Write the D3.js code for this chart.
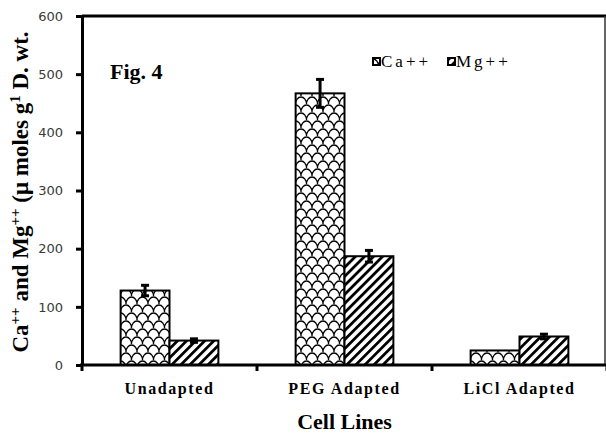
<!DOCTYPE html>
<html lang="en">
  <head>
    <meta charset="UTF-8">
    <script src="https://d3js.org/d3.v7.min.js"></script>
    <title>Fig. 4</title>
    <style>
      body { margin: 0; background: #fff; }
    </style>
  </head>
  <body>
    <div id="chart"></div>
    <script>

// data
const cellLines = ["Unadapted", "PEG Adapted", "LiCl Adapted"];
const series    = ["Ca++", "Mg++"];
const caValues  = [128, 467, 25];
const caErrors  = [9, 24, 0];
const mgValues  = [42, 187, 49];
const mgErrors  = [3, 10, 4];
const yTicks    = [0, 100, 200, 300, 400, 500, 600];

const width  = 606;
const height = 435;

const svg = d3
  .select("#chart")
  .append("svg")
  .attr("width", width)
  .attr("height", height)
  .attr("viewBox", [0, 0, width, height]);

// hatch patterns
const defs = svg.append("defs");

// shingle-like scales for Ca++
const scale = defs.append("pattern")
  .attr("id", "pat-ca")
  .attr("patternUnits", "userSpaceOnUse")
  .attr("width", 11)
  .attr("height", 16);
scale.append("rect").attr("width", 11).attr("height", 16).attr("fill", "#fff");
scale.append("path")
  .attr("d", "M0,16 A5.5,7 0 0 1 11,16 M0,0 A5.5,7 0 0 1 11,0 M-5.5,8 A5.5,7 0 0 1 5.5,8 M5.5,8 A5.5,7 0 0 1 16.5,8")
  .attr("fill", "none")
  .attr("stroke", "#000")
  .attr("stroke-width", 1.3);

// diagonal stripes for Mg++
const stripe = defs.append("pattern")
  .attr("id", "pat-mg")
  .attr("patternUnits", "userSpaceOnUse")
  .attr("width", 6.4)
  .attr("height", 6.4)
  .attr("patternTransform", "rotate(45)");
stripe.append("rect").attr("width", 6.4).attr("height", 6.4).attr("fill", "#fff");
stripe.append("rect").attr("width", 2.8).attr("height", 6.4).attr("fill", "#000");

const fills = { "Ca++": "url(#pat-ca)", "Mg++": "url(#pat-mg)" };

// scales
const x0 = d3.scaleBand().domain(cellLines).range([82, 607]);
const x1 = d3.scaleBand().domain(series).range([0, x0.bandwidth()]).paddingOuter(0.79);
const y  = d3.scaleLinear().domain([0, 600]).range([365, 16]);

const rows = cellLines.map((c, i) => ({
  cell: c,
  bars: [
    { key: "Ca++", value: caValues[i], err: caErrors[i] },
    { key: "Mg++", value: mgValues[i], err: mgErrors[i] }
  ]
}));

// frame: top thick, right thin
svg.append("line")
  .attr("x1", 82).attr("x2", 606)
  .attr("y1", y(600)).attr("y2", y(600))
  .attr("stroke", "#000").attr("stroke-width", 3);
svg.append("line")
  .attr("x1", 605).attr("x2", 605)
  .attr("y1", y(600)).attr("y2", y(0))
  .attr("stroke", "#333").attr("stroke-width", 1.5);

// bars
const group = svg.append("g")
  .selectAll("g")
  .data(rows)
  .join("g")
  .attr("transform", d => `translate(${x0(d.cell)},0)`);

group.selectAll("rect")
  .data(d => d.bars)
  .join("rect")
  .attr("x", d => x1(d.key))
  .attr("y", d => y(d.value))
  .attr("width", x1.bandwidth())
  .attr("height", d => y(0) - y(d.value))
  .attr("fill", d => fills[d.key])
  .attr("stroke", "#000")
  .attr("stroke-width", 2);

// error bars
const err = group.selectAll("g.err")
  .data(d => d.bars.filter(b => b.err > 0))
  .join("g")
  .attr("class", "err")
  .attr("stroke", "#000")
  .attr("stroke-width", 3);
err.append("line")
  .attr("x1", d => x1(d.key) + x1.bandwidth() / 2)
  .attr("x2", d => x1(d.key) + x1.bandwidth() / 2)
  .attr("y1", d => y(d.value + d.err))
  .attr("y2", d => y(d.value - d.err));
err.append("line")
  .attr("x1", d => x1(d.key) + x1.bandwidth() / 2 - 4)
  .attr("x2", d => x1(d.key) + x1.bandwidth() / 2 + 4)
  .attr("y1", d => y(d.value + d.err))
  .attr("y2", d => y(d.value + d.err));
err.append("line")
  .attr("x1", d => x1(d.key) + x1.bandwidth() / 2 - 4)
  .attr("x2", d => x1(d.key) + x1.bandwidth() / 2 + 4)
  .attr("y1", d => y(d.value - d.err))
  .attr("y2", d => y(d.value - d.err));

// y axis
const yAxis = svg.append("g")
  .attr("transform", "translate(82,0)")
  .call(d3.axisLeft(y).tickValues(yTicks).tickSize(6).tickSizeOuter(0).tickPadding(13));
yAxis.select(".domain").attr("stroke-width", 3);
yAxis.selectAll(".tick line").attr("stroke-width", 3);
yAxis.selectAll(".tick text")
  .attr("font-family", "DejaVu Sans, sans-serif")
  .attr("font-size", 13)
  .attr("fill", "#3a3a3a");

// x axis
svg.append("line")
  .attr("x1", 80).attr("x2", 607)
  .attr("y1", y(0)).attr("y2", y(0))
  .attr("stroke", "#000").attr("stroke-width", 3);
svg.append("g")
  .selectAll("line")
  .data(cellLines.map(c => x0(c)).concat([x0.range()[1]]))
  .join("line")
  .attr("x1", d => d).attr("x2", d => d)
  .attr("y1", y(0)).attr("y2", y(0) + 6)
  .attr("stroke", "#000").attr("stroke-width", 3);

svg.append("g")
  .selectAll("text")
  .data(cellLines)
  .join("text")
  .attr("x", d => x0(d) + x0.bandwidth() / 2)
  .attr("y", 394)
  .attr("text-anchor", "middle")
  .attr("font-family", "Liberation Serif, serif")
  .attr("font-weight", "bold")
  .attr("font-size", 16)
  .attr("letter-spacing", 1.6)
  .text(d => d);

svg.append("text")
  .attr("x", (x0.range()[0] + x0.range()[1]) / 2)
  .attr("y", 429)
  .attr("text-anchor", "middle")
  .attr("font-family", "Liberation Serif, serif")
  .attr("font-weight", "bold")
  .attr("font-size", 22)
  .text("Cell Lines");

// y label
const yLabel = svg.append("text")
  .attr("transform", "translate(28,192) rotate(-90)")
  .attr("text-anchor", "middle")
  .attr("font-family", "Liberation Serif, serif")
  .attr("font-weight", "bold")
  .attr("font-size", 23);
yLabel.append("tspan").text("Ca");
yLabel.append("tspan").attr("baseline-shift", "super").attr("font-size", 15).text("++");
yLabel.append("tspan").text(" and Mg");
yLabel.append("tspan").attr("baseline-shift", "super").attr("font-size", 15).text("++");
yLabel.append("tspan").text(" (\u03bc moles g");
yLabel.append("tspan").attr("baseline-shift", "super").attr("font-size", 15).text("1");
yLabel.append("tspan").text(" D. wt.");

// figure tag
svg.append("text")
  .attr("x", 110)
  .attr("y", 79)
  .attr("font-family", "Liberation Serif, serif")
  .attr("font-weight", "bold")
  .attr("font-size", 22)
  .text("Fig. 4");

// legend
const legendX = [373, 448];
const legend = svg.append("g")
  .selectAll("g")
  .data(series)
  .join("g")
  .attr("transform", (d, i) => `translate(${legendX[i]},58)`);
legend.append("rect")
  .attr("width", 7).attr("height", 7)
  .attr("fill", d => fills[d])
  .attr("stroke", "#000")
  .attr("stroke-width", 2);
legend.append("text")
  .attr("x", 8)
  .attr("y", 8.5)
  .attr("font-family", "Liberation Serif, serif")
  .attr("font-size", 17)
  .attr("letter-spacing", 3)
  .text(d => d);

    </script>
  </body>
</html>
